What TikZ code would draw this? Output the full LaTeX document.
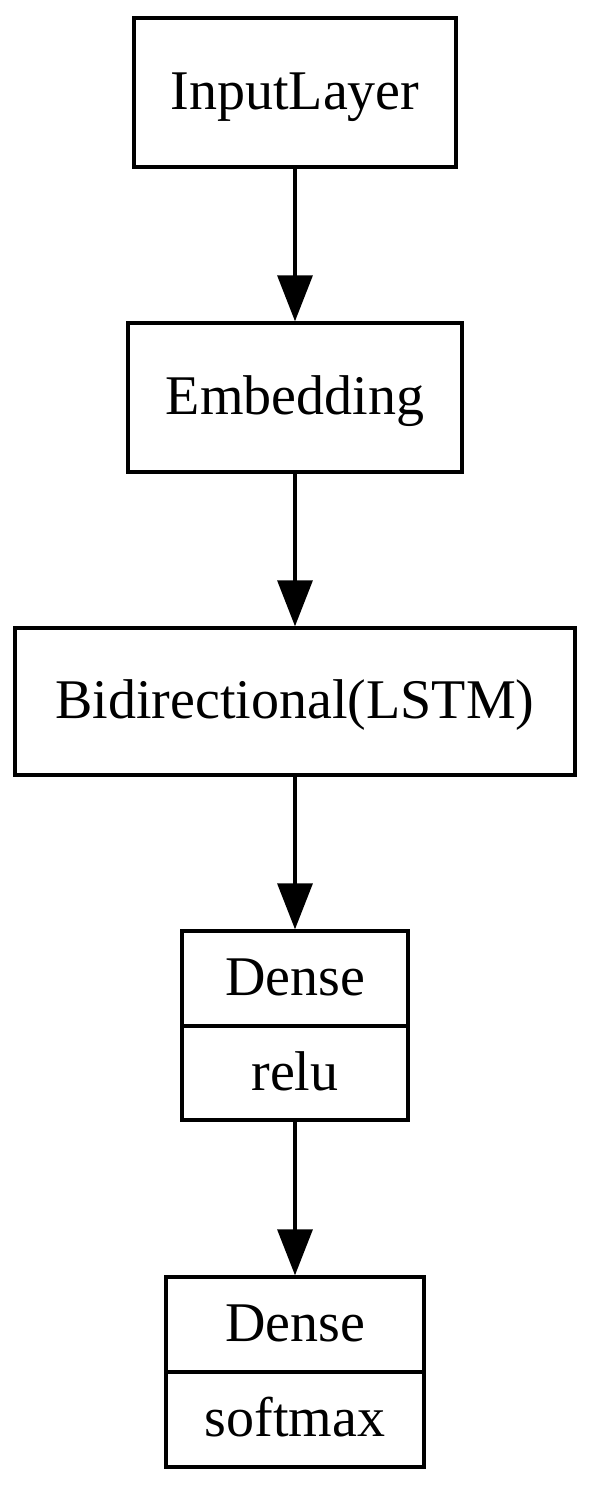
\documentclass[tikz,border=0pt]{standalone}
\usepackage{fontspec}
\setmainfont{Liberation Serif}
\usetikzlibrary{arrows.meta}
\begin{document}
\begin{tikzpicture}[x=1pt,y=-1pt,
  box/.style={draw, line width=3.4pt, inner sep=0pt, text height=40pt, text depth=6pt, font=\fontsize{56}{60}\selectfont},
  arr/.style={-{Triangle[length=46pt,width=35pt]}, line width=3.4pt}]
\useasboundingbox (0,0) rectangle (592,1487);
\node[box, minimum width=322pt, minimum height=149pt] (input) at (295,92.5) {InputLayer};
\node[box, minimum width=334pt, minimum height=149pt] (embed) at (295,397.5) {Embedding};
\node[box, minimum width=560pt, minimum height=147pt] (bilstm) at (295,701.5) {Bidirectional(LSTM)};
\node[box, minimum width=226pt, minimum height=95pt] (dense1) at (295,978.5) {Dense};
\node[box, minimum width=226pt, minimum height=94pt] (relu) at (295,1073) {relu};
\node[box, minimum width=258pt, minimum height=95pt] (dense2) at (295,1324.5) {Dense};
\node[box, minimum width=258pt, minimum height=95pt] (softmax) at (295,1419.5) {softmax};
\draw[arr] (input.south) -- (embed.north);
\draw[arr] (embed.south) -- (bilstm.north);
\draw[arr] (bilstm.south) -- (dense1.north);
\draw[arr] (relu.south) -- (dense2.north);
\end{tikzpicture}
\end{document}
